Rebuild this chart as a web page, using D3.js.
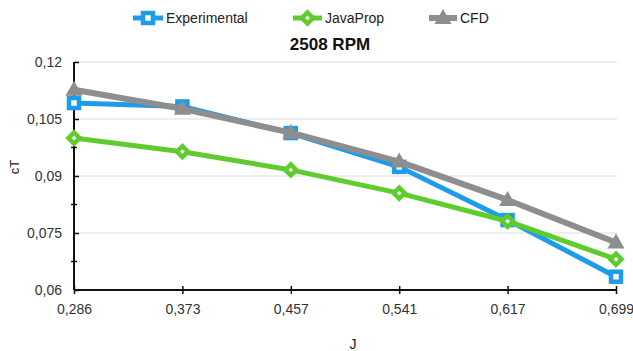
<!DOCTYPE html>
<html>
<head>
<meta charset="utf-8">
<script src="https://cdn.jsdelivr.net/npm/d3@7"></script>
<style>
  html, body { margin: 0; padding: 0; background: #fff; }
  svg { display: block; font-family: "Liberation Sans", Arial, sans-serif; }
</style>
</head>
<body>
<svg id="chart" width="633" height="351"></svg>
<script>
// Advance ratio J (categorical x axis)
const categories = ["0,286", "0,373", "0,457", "0,541", "0,617", "0,699"];

// Thrust coefficient cT per source
const experimental = [0.1092, 0.1083, 0.1013, 0.0924, 0.0784, 0.0635];
const javaProp     = [0.1000, 0.0964, 0.0916, 0.0855, 0.0781, 0.0681];
const cfd          = [0.1127, 0.1077, 0.1014, 0.0938, 0.0837, 0.0725];

const seriesNames = ["Experimental", "JavaProp", "CFD"];
const yMajorTicks = [0.06, 0.075, 0.09, 0.105, 0.12];
const yMinorTicks = [0.0675, 0.0825, 0.0975, 0.1125];
const chartTitle = "2508 RPM";
const xTitle = "J";
const yTitle = "cT";

const colors = { Experimental: "#1C9CEB", JavaProp: "#5FCC2E", CFD: "#8E8E8E" };
const widths = { Experimental: 5, JavaProp: 5, CFD: 6 };

const series = [
  { name: seriesNames[0], values: experimental, marker: "square" },
  { name: seriesNames[1], values: javaProp, marker: "diamond" },
  { name: seriesNames[2], values: cfd, marker: "triangle" }
];

const svg = d3.select("#chart");
const plotLeft = 74, plotRight = 616, plotTop = 62, plotBottom = 290;

const x = d3.scalePoint().domain(categories).range([plotLeft, plotRight]);
const y = d3.scaleLinear().domain([0.06, 0.12]).range([plotBottom, plotTop]);
const fmt = v => String(+v.toFixed(4)).replace(".", ",");

// horizontal gridlines
svg.append("g").selectAll("line")
  .data(yMajorTicks.filter(v => v > 0.06))
  .join("line")
  .attr("x1", plotLeft).attr("x2", plotRight + 1)
  .attr("y1", d => y(d)).attr("y2", d => y(d))
  .attr("stroke", "#dcdcdc").attr("stroke-width", 1);

// y axis
const yAxis = svg.append("g").attr("transform", `translate(${plotLeft},0)`)
  .call(d3.axisLeft(y).tickValues(yMajorTicks).tickFormat(fmt).tickSize(4).tickPadding(8));
yAxis.select(".domain").remove();
yAxis.selectAll(".tick line").attr("x2", 5).attr("stroke", "#111").attr("stroke-width", 1.5);
yAxis.selectAll(".tick text").attr("font-size", 14).attr("fill", "#333")
  .attr("font-family", "Liberation Sans, Arial, sans-serif");
yAxis.append("g").selectAll("line").data(yMinorTicks).join("line")
  .attr("x1", -3).attr("x2", 3)
  .attr("y1", d => y(d)).attr("y2", d => y(d))
  .attr("stroke", "#111").attr("stroke-width", 1.5);
yAxis.append("line").attr("x1", 0).attr("x2", 0)
  .attr("y1", y(0.12)).attr("y2", y(0.06))
  .attr("stroke", "#111").attr("stroke-width", 2);

// x axis
const xAxis = svg.append("g").attr("transform", `translate(0,${plotBottom})`)
  .call(d3.axisBottom(x).tickSize(4).tickPadding(10));
xAxis.select(".domain").remove();
xAxis.append("line").attr("x1", plotLeft).attr("x2", plotRight)
  .attr("stroke", "#111").attr("stroke-width", 2);
xAxis.selectAll(".tick line").attr("y1", -4).attr("stroke", "#111").attr("stroke-width", 1.5);
xAxis.selectAll(".tick text").attr("font-size", 14).attr("fill", "#333")
  .attr("font-family", "Liberation Sans, Arial, sans-serif");

// marker shapes
function drawMarker(g, type, color, cx, cy) {
  if (type === "square") {
    g.append("rect").attr("x", cx - 5).attr("y", cy - 5).attr("width", 10).attr("height", 10)
      .attr("fill", "#fff").attr("stroke", color).attr("stroke-width", 4.5);
  } else if (type === "diamond") {
    const r = 5.5;
    g.append("path")
      .attr("d", `M${cx},${cy - r}L${cx + r},${cy}L${cx},${cy + r}L${cx - r},${cy}Z`)
      .attr("fill", "#fff").attr("stroke", color).attr("stroke-width", 4.5)
      .attr("stroke-linejoin", "miter");
  } else {
    g.append("path")
      .attr("d", `M${cx},${cy - 9}L${cx + 8.5},${cy + 6}L${cx - 8.5},${cy + 6}Z`)
      .attr("fill", color);
  }
}

const line = d3.line().x((d, i) => x(categories[i])).y(d => y(d));

series.forEach(s => {
  const g = svg.append("g");
  g.append("path").datum(s.values).attr("d", line)
    .attr("fill", "none").attr("stroke", colors[s.name])
    .attr("stroke-width", widths[s.name]).attr("stroke-linejoin", "round");
  s.values.forEach((v, i) => drawMarker(g, s.marker, colors[s.name], x(categories[i]), y(v)));
});

// legend
const legendPos = [
  { name: "Experimental", x0: 133, x1: 163 },
  { name: "JavaProp", x0: 293, x1: 322 },
  { name: "CFD", x0: 429, x1: 457 }
];
const legend = svg.append("g");
legendPos.forEach(p => {
  const s = series.find(d => d.name === p.name);
  const ly = 18;
  legend.append("line").attr("x1", p.x0).attr("x2", p.x1).attr("y1", ly).attr("y2", ly)
    .attr("stroke", colors[p.name]).attr("stroke-width", widths[p.name]);
  drawMarker(legend, s.marker, colors[p.name], (p.x0 + p.x1) / 2, ly);
  legend.append("text").attr("x", p.x1 + 3).attr("y", ly + 5)
    .attr("font-size", 14).attr("fill", "#222").text(p.name);
});

// titles
svg.append("text").attr("x", 330).attr("y", 50).attr("text-anchor", "middle")
  .attr("font-size", 17).attr("font-weight", "bold").attr("fill", "#111").text(chartTitle);
svg.append("text").attr("x", 353).attr("y", 349).attr("text-anchor", "middle")
  .attr("font-size", 14).attr("fill", "#222").text(xTitle);
svg.append("text").attr("transform", "translate(19,167) rotate(-90)").attr("text-anchor", "middle")
  .attr("font-size", 13).attr("fill", "#222").text(yTitle);
</script>
</body>
</html>
